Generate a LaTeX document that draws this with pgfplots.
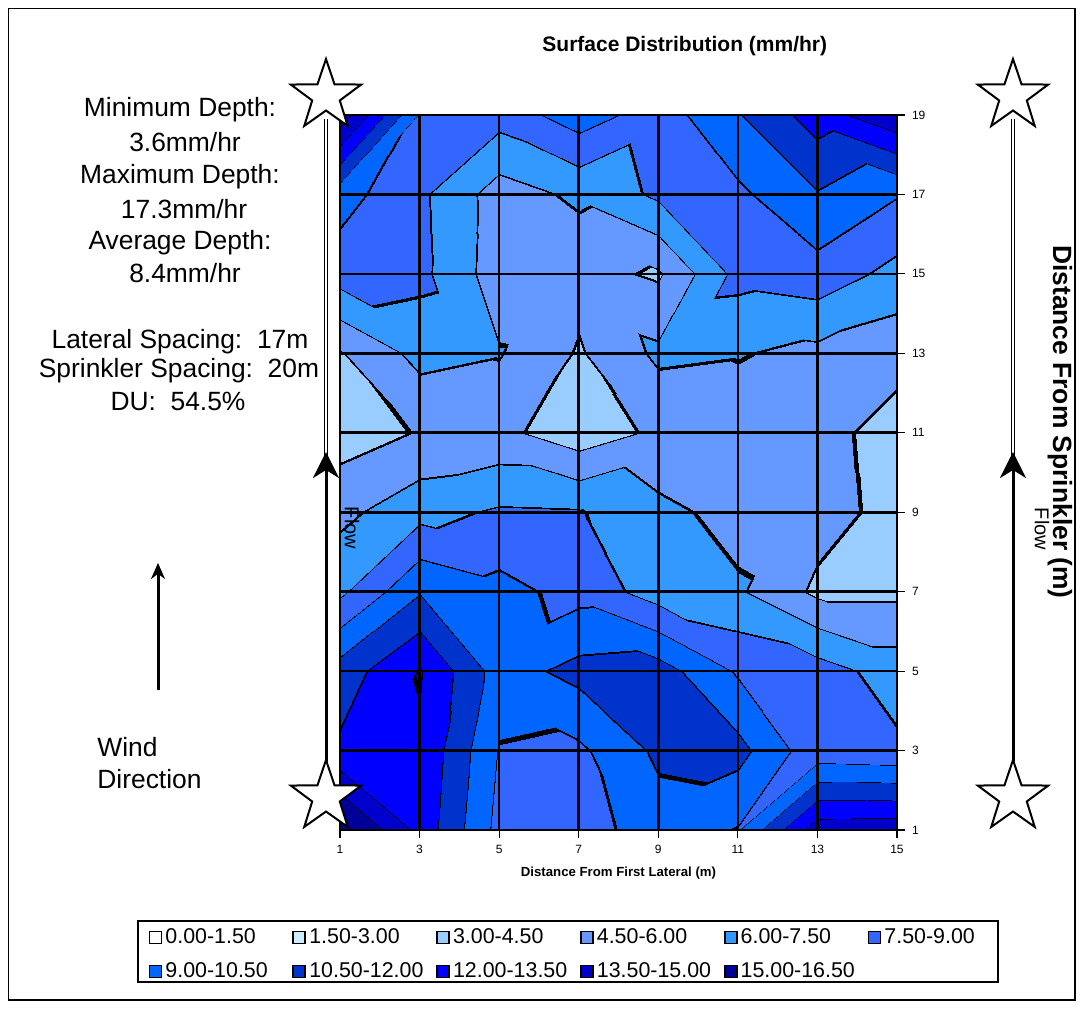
\documentclass[border=0pt]{standalone}
\begin{filecontents*}[overwrite]{tri.dat}
0 1 8
1 9 8
1 2 10
1 10 9
2 3 11
2 11 10
3 4 11
4 12 11
4 5 13
4 13 12
5 6 14
5 14 13
6 7 14
7 15 14
8 9 17
8 17 16
9 10 18
9 18 17
10 11 18
11 19 18
11 12 19
12 20 19
12 13 20
13 21 20
13 14 21
14 22 21
14 15 22
15 23 22
16 17 25
16 25 24
17 18 25
18 26 25
18 19 27
18 27 26
19 20 27
20 28 27
20 21 28
21 29 28
21 22 29
22 30 29
22 23 30
23 31 30
24 25 33
24 33 32
25 26 33
26 34 33
26 27 34
27 35 34
27 28 35
28 36 35
28 29 36
29 37 36
29 30 38
29 38 37
30 31 39
30 39 38
32 33 41
32 41 40
33 34 42
33 42 41
34 35 42
35 43 42
35 36 44
35 44 43
36 37 44
37 45 44
37 38 45
38 46 45
38 39 46
39 47 46
40 41 48
41 49 48
41 42 50
41 50 49
42 43 51
42 51 50
43 44 51
44 52 51
44 45 53
44 53 52
45 46 54
45 54 53
46 47 55
46 55 54
48 49 56
49 57 56
49 50 57
50 58 57
50 51 59
50 59 58
51 52 59
52 60 59
52 53 61
52 61 60
53 54 61
54 62 61
54 55 63
54 63 62
56 57 65
56 65 64
57 58 66
57 66 65
58 59 66
59 67 66
59 60 67
60 68 67
60 61 68
61 69 68
61 62 69
62 70 69
62 63 71
62 71 70
64 65 73
64 73 72
65 66 74
65 74 73
66 67 74
67 75 74
67 68 76
67 76 75
68 69 76
69 77 76
69 70 77
70 78 77
70 71 78
71 79 78
\end{filecontents*}
\usepackage{pgfplots}
\usepackage{pgfplotstable}
\pgfplotsset{compat=1.18}
\usepackage{fontspec}
\setmainfont{Liberation Sans}
\usetikzlibrary{shapes.geometric, arrows.meta}

\definecolor{c0}{HTML}{FFFFFF}
\definecolor{c1}{HTML}{CCECFF}
\definecolor{c2}{HTML}{99CCFF}
\definecolor{c3}{HTML}{6699FF}
\definecolor{c4}{HTML}{3399FF}
\definecolor{c5}{HTML}{3366FF}
\definecolor{c6}{HTML}{0066FF}
\definecolor{c7}{HTML}{0033CC}
\definecolor{c8}{HTML}{0000FF}
\definecolor{c9}{HTML}{0000CC}
\definecolor{c10}{HTML}{000099}

\pgfplotsset{colormap={cmap}{
 color(0)=(c0)
 color(1.47)=(black) color(1.53)=(c1)
 color(2.97)=(black) color(3.03)=(c2)
 color(4.47)=(black) color(4.53)=(c3)
 color(5.97)=(black) color(6.03)=(c4)
 color(7.47)=(black) color(7.53)=(c5)
 color(8.97)=(black) color(9.03)=(c6)
 color(10.47)=(black) color(10.53)=(c7)
 color(11.97)=(black) color(12.03)=(c8)
 color(13.47)=(black) color(13.53)=(c9)
 color(14.97)=(black) color(15.03)=(c10)
 color(18)=(c10)}}

% depth at each grid node (x = distance from first lateral, y = distance from sprinkler)
\pgfplotstableread{
x y z
1 1 17.3
3 1 13.0
5 1 8.5
7 1 8.3
9 1 9.8
11 1 8.9
13 1 14.4
15 1 14.5
1 3 12.3
3 3 13.3
5 3 8.9
7 3 8.7
9 3 10.8
11 3 11.0
13 3 8.0
15 3 7.8
1 5 11.2
3 5 13.6
5 5 9.8
7 5 11.0
9 5 11.2
11 5 8.8
13 5 8.2
15 5 6.8
1 7 7.2
3 7 10.4
5 7 9.5
7 7 8.5
9 7 6.8
11 7 6.2
13 7 4.2
15 7 4.2
1 9 5.6
3 9 7.0
5 9 7.7
7 9 7.6
9 9 6.4
11 9 5.5
13 9 5.1
15 9 4.0
1 11 3.8
3 11 4.6
5 11 4.9
7 11 3.6
9 11 4.8
11 11 5.2
13 11 5.0
15 11 3.9
1 13 4.4
3 13 6.5
5 13 6.1
7 13 4.35
9 13 6.3
11 13 6.1
13 13 5.6
15 13 5.0
1 15 8.2
3 15 7.9
5 15 5.2
7 15 5.0
9 15 4.3
11 15 8.0
13 15 8.4
15 15 7.0
1 17 9.6
3 17 7.8
5 17 5.3
7 17 6.3
9 17 7.8
11 17 8.7
13 17 10.4
15 17 9.1
1 19 16.0
3 19 8.8
5 19 8.1
7 19 9.8
9 19 8.2
11 19 10.4
13 19 12.7
15 19 14.8
}\depthdata

\begin{document}
\begin{tikzpicture}[x=0.5pt,y=0.5pt]
\useasboundingbox (0,0) rectangle (1083,1009);
\draw[line width=0.6pt] (8.5,9) rectangle (1075,1000.5);

\begin{axis}[
  at={(170pt,89.5pt)}, anchor=south west,
  scale only axis, width=278.5pt, height=357.5pt,
  xmin=1, xmax=15, ymin=1, ymax=19,
  xtick={1,3,...,15}, ytick={1,3,...,19},
  xtick pos=bottom, ytick pos=right, yticklabel pos=right,
  tick align=outside, major tick length=4pt,
  tick style={black, line width=0.6pt},
  grid=major, major grid style={black, line width=1.3pt},
  axis line style={black, line width=1.3pt},
  axis on top,
  colormap name=cmap, colormap access=piecewise constant,
  point meta min=0, point meta max=18,
  /pgf/number format/assume math mode=true,
  ticklabel style={font=\fontsize{6}{7}\selectfont},
  xlabel={Distance From First Lateral (m)},
  xlabel style={font=\bfseries\fontsize{6.6}{8}\selectfont, at={(axis description cs:0.5,-0.06)}, anchor=center},
  title={Surface Distribution (mm/hr)},
  title style={font=\bfseries\fontsize{10.5}{12}\selectfont, at={(axis description cs:0.619,1.079)}, anchor=center},
  legend columns=6,
  legend cell align=left,
  legend image code/.code={\draw[#1, line width=0.9pt] (0pt,-3pt) rectangle (6pt,3pt);},
  legend style={at={(axis description cs:-0.355,-0.126)}, anchor=north west, draw=none, fill=none,
    font=\fontsize{10.7}{12}\selectfont, row sep=4pt,
    nodes={inner xsep=1.5pt},
    /tikz/every even column/.append style={column sep=1pt, text width=61pt}},
]
\addplot[patch, patch type=triangle, shader=interp, patch table={tri.dat}, point meta=explicit, forget plot]
  table[x=x, y=y, meta=z] {\depthdata};
\addlegendimage{fill=c0, draw=black}\addlegendentry{0.00-1.50}
\addlegendimage{fill=c1, draw=black}\addlegendentry{1.50-3.00}
\addlegendimage{fill=c2, draw=black}\addlegendentry{3.00-4.50}
\addlegendimage{fill=c3, draw=black}\addlegendentry{4.50-6.00}
\addlegendimage{fill=c4, draw=black}\addlegendentry{6.00-7.50}
\addlegendimage{fill=c5, draw=black}\addlegendentry{7.50-9.00}
\addlegendimage{fill=c6, draw=black}\addlegendentry{9.00-10.50}
\addlegendimage{fill=c7, draw=black}\addlegendentry{10.50-12.00}
\addlegendimage{fill=c8, draw=black}\addlegendentry{12.00-13.50}
\addlegendimage{fill=c9, draw=black}\addlegendentry{13.50-15.00}
\addlegendimage{fill=c10, draw=black}\addlegendentry{15.00-16.50}
\end{axis}

% legend frame
\draw[line width=0.6pt] (138,27) rectangle (998,88);

% left annotations
\begin{scope}[every node/.style={font=\fontsize{13.2}{15}\selectfont, inner sep=0pt}]
\node at (180,899) {Minimum Depth:};
\node at (185,867) {3.6mm/hr};
\node at (180,832) {Maximum Depth:};
\node at (184,800) {17.3mm/hr};
\node at (180,766) {Average Depth:};
\node at (185,736) {8.4mm/hr};
\node at (180,667) {Lateral Spacing:\ \ 17m};
\node at (179,638) {Sprinkler Spacing:\ \ 20m};
\node at (178,608) {DU:\ \ 54.5\%};
\node[anchor=west] at (97,262) {Wind};
\node[anchor=west] at (97,230) {Direction};
\end{scope}
\draw[line width=1.5pt, -{Stealth[length=8pt,width=7pt]}] (158,319) -- (158,446);

% flow lines
\foreach \xx in {326,1013}{
  \draw[line width=0.4pt, draw=black, double=white, double distance=1.4pt] (\xx,890) -- (\xx,552);
  \draw[line width=1.5pt, -{Stealth[length=13pt,width=13pt,inset=4pt]}] (\xx,225) -- (\xx,557);
  \node[star, star points=5, star point ratio=2.55, draw, fill=white, line width=1pt, minimum size=37pt, inner sep=0pt] at (\xx,913) {};
  \node[star, star points=5, star point ratio=2.55, draw, fill=white, line width=1pt, minimum size=37pt, inner sep=0pt] at (\xx,212) {};
}
\node[rotate=-90, font=\fontsize{10}{12}\selectfont] at (352,481) {Flow};
\node[rotate=-90, font=\fontsize{10}{12}\selectfont] at (1042,480) {Flow};
\node[rotate=-90, font=\bfseries\fontsize{13.2}{15}\selectfont] at (1060,587) {Distance From Sprinkler (m)};
\end{tikzpicture}
\end{document}
